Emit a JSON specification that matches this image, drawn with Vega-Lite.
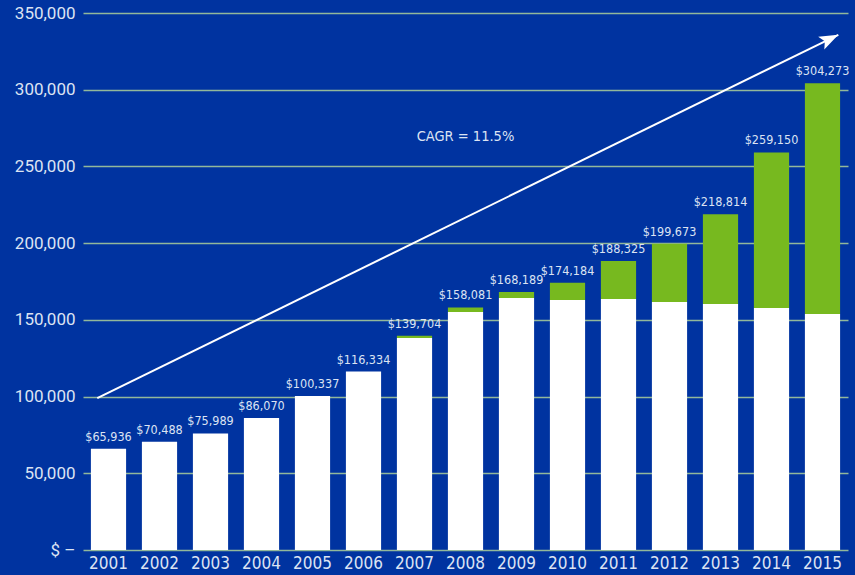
{
  "$schema": "https://vega.github.io/schema/vega-lite/v6.json",
  "width": 765,
  "height": 537,
  "autosize": {"type": "none"},
  "padding": {"left": 83, "top": 13, "right": 7, "bottom": 25},
  "background": "#0033a0",
  "config": {"view": {"stroke": null}},
  "datasets": {
    "bars": [
      {"year": "2001", "base": 65936, "growth": 0, "total": 65936},
      {"year": "2002", "base": 70488, "growth": 0, "total": 70488},
      {"year": "2003", "base": 75989, "growth": 0, "total": 75989},
      {"year": "2004", "base": 86070, "growth": 0, "total": 86070},
      {"year": "2005", "base": 100337, "growth": 0, "total": 100337},
      {"year": "2006", "base": 116334, "growth": 0, "total": 116334},
      {"year": "2007", "base": 138200, "growth": 1504, "total": 139704},
      {"year": "2008", "base": 155100, "growth": 2981, "total": 158081},
      {"year": "2009", "base": 164300, "growth": 3889, "total": 168189},
      {"year": "2010", "base": 163000, "growth": 11184, "total": 174184},
      {"year": "2011", "base": 163600, "growth": 24725, "total": 188325},
      {"year": "2012", "base": 161700, "growth": 37973, "total": 199673},
      {"year": "2013", "base": 160400, "growth": 58414, "total": 218814},
      {"year": "2014", "base": 157800, "growth": 101350, "total": 259150},
      {"year": "2015", "base": 153800, "growth": 150473, "total": 304273}
    ],
    "arrow": [
      {"x": 2000.78, "y": 99000, "end": false},
      {"x": 2015.31, "y": 335800, "end": true}
    ],
    "note": [
      {"x": 2008, "y": 269000, "label": "CAGR = 11.5%"}
    ]
  },
  "layer": [
    {
      "data": {"name": "bars"},
      "encoding": {
        "x": {
          "field": "year", "type": "nominal", "sort": null,
          "scale": {"paddingInner": 0.31, "paddingOuter": 0.155},
          "axis": {"title": null, "domain": false, "ticks": false, "labelAngle": 0,
                   "labelFont": "DejaVu Sans Condensed, Roboto", "labelFontSize": 17,
                   "labelColor": "#dce3f3", "labelPadding": 5}
        }
      },
      "layer": [
        {
          "transform": [{"fold": ["base", "growth"], "as": ["part", "amount"]}],
          "mark": {"type": "bar"},
          "encoding": {
            "y": {
              "field": "amount", "type": "quantitative", "stack": "zero",
              "scale": {"domain": [0, 350000], "nice": false},
              "axis": {"title": null, "domain": false, "ticks": false,
                       "values": [0, 50000, 100000, 150000, 200000, 250000, 300000, 350000],
                       "labelExpr": "datum.value == 0 ? '$ \u2013' : format(datum.value, ',')",
                       "labelFont": "Roboto", "labelFontSize": 17, "labelColor": "#dce3f3",
                       "labelPadding": 8,
                       "grid": true, "gridColor": "#92b89a", "gridWidth": 1.5, "gridOpacity": 1}
            },
            "color": {
              "field": "part", "type": "nominal",
              "scale": {"domain": ["base", "growth"], "range": ["#ffffff", "#77b91f"]},
              "legend": null
            },
            "order": {"field": "part", "sort": "ascending"}
          }
        },
        {
          "mark": {"type": "text", "baseline": "bottom", "dy": -5,
                   "font": "DejaVu Sans Condensed, Roboto", "fontSize": 12.5, "color": "#dce3f3"},
          "encoding": {
            "y": {"field": "total", "type": "quantitative"},
            "text": {"field": "total", "type": "quantitative", "format": "$,"}
          }
        }
      ]
    },
    {
      "encoding": {
        "x": {"field": "x", "type": "quantitative",
              "scale": {"domain": [2000.5, 2015.5], "nice": false, "zero": false}, "axis": null},
        "y": {"field": "y", "type": "quantitative"}
      },
      "layer": [
        {
          "data": {"name": "arrow"},
          "mark": {"type": "line", "color": "#ffffff", "strokeWidth": 2}
        },
        {
          "data": {"name": "arrow"},
          "transform": [{"filter": "datum.end"}],
          "mark": {"type": "point", "shape": "M0,0L7,19L0,15L-7,19Z", "size": 4,
                   "filled": true, "color": "#ffffff", "opacity": 1, "angle": 64}
        },
        {
          "data": {"name": "note"},
          "mark": {"type": "text", "font": "DejaVu Sans Condensed, Roboto", "fontSize": 14.5,
                   "color": "#dce3f3", "baseline": "middle", "align": "center"},
          "encoding": {"text": {"field": "label"}}
        }
      ]
    }
  ],
  "resolve": {"scale": {"x": "independent"}}
}
